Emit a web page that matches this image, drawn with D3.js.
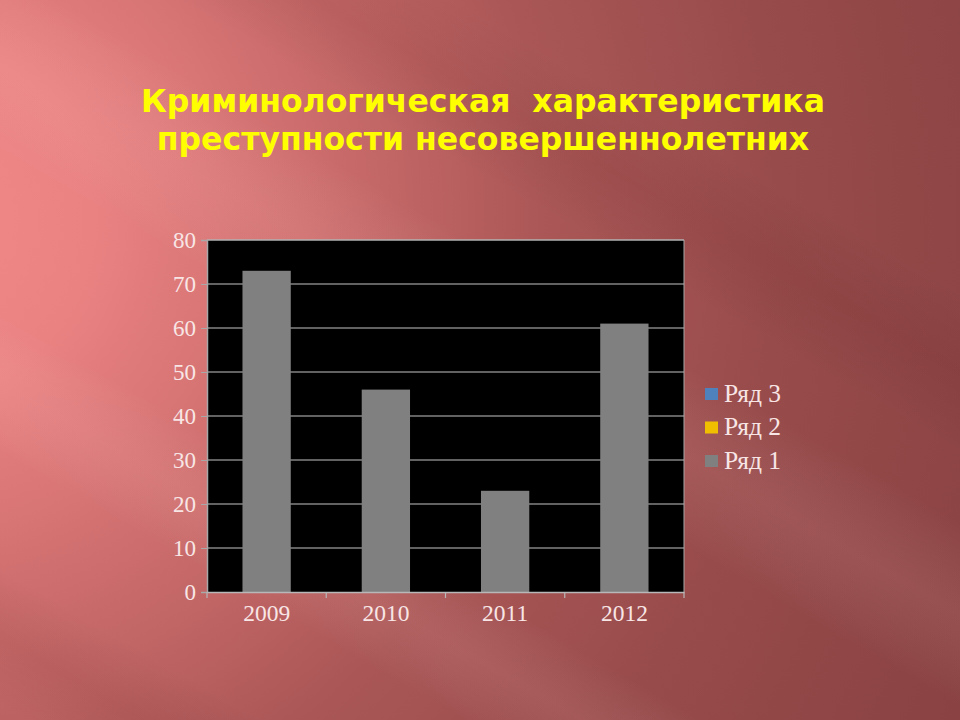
<!DOCTYPE html>
<html><head><meta charset="utf-8">
<script src="https://cdn.jsdelivr.net/npm/d3@7"></script>
<style>html,body{margin:0;padding:0;background:#a85555;}svg{display:block;}</style>
</head><body>
<script>
const categories = ["2009", "2010", "2011", "2012"];
const series1 = [73, 46, 23, 61];
const seriesNames = ["Ряд 3", "Ряд 2", "Ряд 1"];
const seriesColors = ["#4f81bd", "#f0c000", "#808080"];
const yTicks = [0, 10, 20, 30, 40, 50, 60, 70, 80];
const titleLines = ["Криминологическая  характеристика", "преступности несовершеннолетних"];

const W = 960, H = 720;
const svg = d3.select("body").append("svg").attr("width", W).attr("height", H);
const defs = svg.append("defs");

const bg = defs.append("radialGradient").attr("id", "bg")
  .attr("gradientUnits", "userSpaceOnUse")
  .attr("cx", -80).attr("cy", 220).attr("r", 1150);
[["0", "#f28a8a"], ["0.15", "#ea8282"], ["0.35", "#cc6c6c"], ["0.55", "#aa5656"], ["0.75", "#984b4b"], ["1", "#8a4242"]]
  .forEach(([o, c]) => bg.append("stop").attr("offset", o).attr("stop-color", c));
svg.append("rect").attr("width", W).attr("height", H).attr("fill", "url(#bg)");

// soft diagonal streaks
const st = defs.append("linearGradient").attr("id", "streak").attr("x1", "0").attr("y1", "0").attr("x2", "1").attr("y2", "0");
st.append("stop").attr("offset", "0").attr("stop-color", "#ffffff").attr("stop-opacity", 0);
st.append("stop").attr("offset", "0.5").attr("stop-color", "#ffc8c8").attr("stop-opacity", 0.10);
st.append("stop").attr("offset", "1").attr("stop-color", "#ffffff").attr("stop-opacity", 0);
const st2 = defs.append("linearGradient").attr("id", "dark").attr("x1", "0").attr("y1", "0").attr("x2", "1").attr("y2", "0");
st2.append("stop").attr("offset", "0").attr("stop-color", "#000").attr("stop-opacity", 0);
st2.append("stop").attr("offset", "0.5").attr("stop-color", "#400000").attr("stop-opacity", 0.07);
st2.append("stop").attr("offset", "1").attr("stop-color", "#000").attr("stop-opacity", 0);
const streaks = svg.append("g");
[[-260, 160, "streak"], [-60, 120, "dark"], [160, 120, "streak"], [420, 160, "streak"], [640, 140, "dark"]]
  .forEach(([sx, sw, f]) => streaks.append("rect").attr("x", sx).attr("y", -800).attr("width", sw).attr("height", 2400)
    .attr("fill", `url(#${f})`).attr("transform", "rotate(-60 480 360)"));

// title
svg.append("g").selectAll("text").data(titleLines).join("text")
  .attr("x", 483).attr("y", (d, i) => 112 + i * 38)
  .attr("text-anchor", "middle")
  .attr("font-family", "DejaVu Sans, Verdana, sans-serif")
  .attr("font-weight", "bold").attr("font-size", 31.5)
  .attr("fill", "#ffff00")
  .attr("xml:space", "preserve")
  .style("white-space", "pre")
  .text(d => d);

// chart
const L = 207, R = 684, T = 240, B = 592;
const xb = d3.scaleBand().domain(categories).range([L, R]);
const y = d3.scaleLinear().domain([0, 80]).range([B, T]);
const barW = xb.bandwidth() * 0.405;
const txtCol = "#f8e6e6";
const serif = "Liberation Serif, Times New Roman, serif";

svg.append("rect").attr("x", L).attr("y", T).attr("width", R - L).attr("height", B - T).attr("fill", "#000");

svg.append("g").selectAll("line").data(yTicks.filter(v => v > 0)).join("line")
  .attr("x1", L).attr("x2", R).attr("y1", d => y(d)).attr("y2", d => y(d))
  .attr("stroke", "#c4c4c4").attr("stroke-width", 1.2);

svg.append("g").selectAll("rect").data(series1).join("rect")
  .attr("x", (d, i) => xb(categories[i]) + (xb.bandwidth() - barW) / 2)
  .attr("width", barW)
  .attr("y", d => y(d)).attr("height", d => B - y(d))
  .attr("fill", seriesColors[2]);

// y axis
const ya = svg.append("g").attr("transform", `translate(${L},0)`)
  .call(d3.axisLeft(y).tickValues(yTicks).tickSize(6).tickPadding(5));
ya.select(".domain").attr("stroke", "#a8a8a8").attr("stroke-width", 1.5);
ya.selectAll(".tick line").attr("stroke", "#a8a8a8");
ya.selectAll("text").attr("fill", txtCol).attr("font-family", serif).attr("font-size", 23).attr("dy", "0.34em");

// x axis
const xa = svg.append("g").attr("transform", `translate(0,${B})`)
  .call(d3.axisBottom(xb).tickSize(0).tickPadding(14));
xa.select(".domain").attr("stroke", "#b8b8b8").attr("stroke-width", 1.5);
xa.selectAll("text").attr("fill", txtCol).attr("font-family", serif).attr("font-size", 23.5).attr("dy", "0.65em");
svg.append("g").selectAll("line").data(d3.range(categories.length + 1)).join("line")
  .attr("x1", i => L + i * xb.step()).attr("x2", i => L + i * xb.step())
  .attr("y1", B).attr("y2", B + 6).attr("stroke", "#b8b8b8").attr("stroke-width", 1.2);

// borders
svg.append("line").attr("x1", L).attr("x2", R).attr("y1", T).attr("y2", T).attr("stroke", "#a8a8a8").attr("stroke-width", 1);
svg.append("line").attr("x1", R).attr("x2", R).attr("y1", T).attr("y2", B).attr("stroke", "#a8a8a8").attr("stroke-width", 1);

// legend
const lg = svg.append("g").selectAll("g").data(seriesNames).join("g")
  .attr("transform", (d, i) => `translate(705,${388 + i * 33.5})`);
lg.append("rect").attr("width", 13).attr("height", 12).attr("y", 0)
  .attr("fill", (d, i) => seriesColors[i]);
lg.append("text").attr("x", 19).attr("y", 13.5)
  .attr("fill", txtCol).attr("font-family", serif).attr("font-size", 25.5)
  .text(d => d);
</script>
</body></html>
